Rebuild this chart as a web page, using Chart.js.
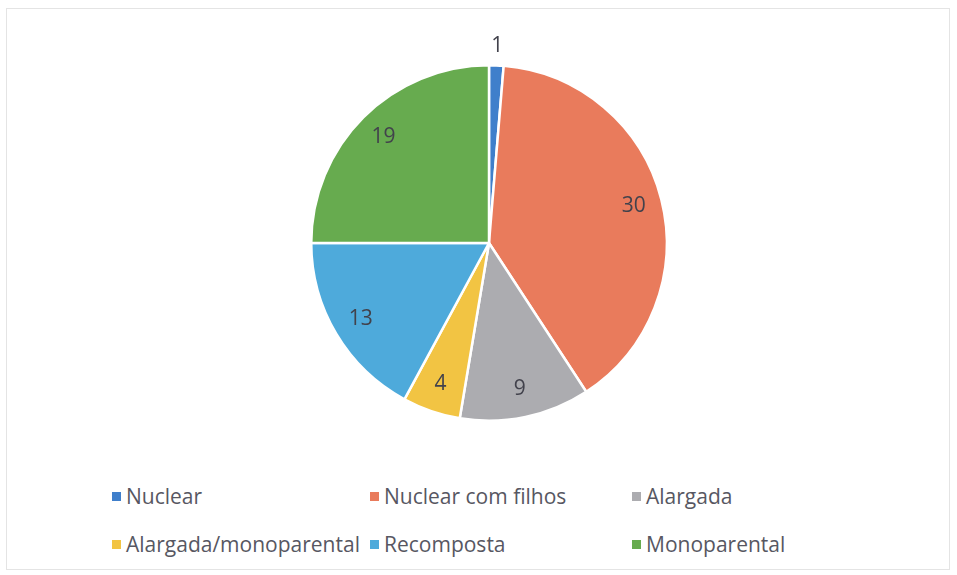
<!DOCTYPE html>
<html lang="pt">
<head>
    <meta charset="UTF-8">
    <title>Tipologia familiar</title>
    <script src="https://cdn.jsdelivr.net/npm/chart.js"></script>
    <style>
        body { margin: 0; background: #fff; font-family: "Open Sans", Lato, sans-serif; }
        #frame { position: absolute; left: 6px; top: 8px; width: 942px; height: 560px; border: 1px solid #e4e4e4; }
        #wrap { position: absolute; left: 0; top: 0; width: 957px; height: 440px; }
        .item { position: absolute; font-size: 21px; color: #575762; white-space: nowrap; }
        .item span { display: inline-block; width: 9px; height: 9px; margin-right: 5px; vertical-align: 3px; }
    </style>
</head>
<body>
    <div id="frame"></div>
    <div id="wrap"><canvas id="chart"></canvas></div>
    <div id="legend"></div>

    <script>
        const labels = ['Nuclear', 'Nuclear com filhos', 'Alargada', 'Alargada/monoparental', 'Recomposta', 'Monoparental'];
        const values = [1, 30, 9, 4, 13, 19];
        const colors = ['#3f7fcb', '#e97b5c', '#acacb0', '#f2c443', '#4eaadb', '#67ab4f'];

        // slice value labels, drawn inside or just outside the pie
        const sliceLabels = {
            id: 'sliceLabels',
            afterDatasetsDraw(chart) {
                const ctx = chart.ctx;
                const meta = chart.getDatasetMeta(0);
                ctx.save();
                ctx.font = '21px "Open Sans", Lato, sans-serif';
                ctx.fillStyle = '#42424c';
                ctx.textAlign = 'center';
                ctx.textBaseline = 'middle';
                meta.data.forEach((arc, i) => {
                    const mid = (arc.startAngle + arc.endAngle) / 2;
                    const r = values[i] < 2 ? arc.outerRadius + 19 : arc.outerRadius * 0.84;
                    ctx.fillText(values[i], arc.x + Math.cos(mid) * r, arc.y + Math.sin(mid) * r);
                });
                ctx.restore();
            }
        };

        let ctx = document.getElementById('chart').getContext('2d');
        new Chart(ctx, {
            type: 'pie',
            data: {
                labels: labels,
                datasets: [{
                    data: values,
                    backgroundColor: colors,
                    borderColor: '#ffffff',
                    borderWidth: 2.5
                }]
            },
            options: {
                responsive: true,
                maintainAspectRatio: false,
                animation: false,
                layout: { padding: { top: 64, bottom: 18, left: 21, right: 0 } },
                plugins: { legend: { display: false }, tooltip: { enabled: false } }
            },
            plugins: [sliceLabels]
        });

        // legend laid out in three columns, two rows
        const cols = [112, 370, 632];
        const rows = [482, 530];
        const legend = document.getElementById('legend');
        labels.forEach((name, i) => {
            const d = document.createElement('div');
            d.className = 'item';
            d.style.left = cols[i % 3] + 'px';
            d.style.top = rows[Math.floor(i / 3)] + 'px';
            d.innerHTML = '<span style="background:' + colors[i] + '"></span>' + name;
            legend.appendChild(d);
        });
    </script>
</body>
</html>
